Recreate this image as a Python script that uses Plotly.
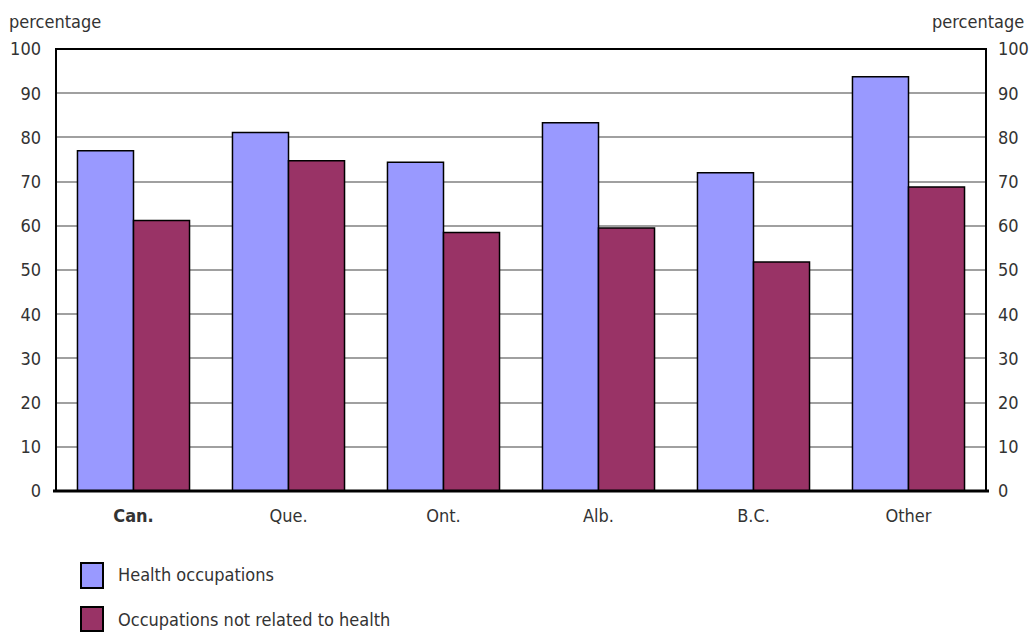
import plotly.graph_objects as go

categories = ["Can.", "Que.", "Ont.", "Alb.", "B.C.", "Other"]
tick_labels = ["<b>Can.</b>", "Que.", "Ont.", "Alb.", "B.C.", "Other"]
health = [77.0, 81.1, 74.4, 83.3, 72.0, 93.7]
not_health = [61.2, 74.7, 58.5, 59.5, 51.8, 68.8]
y_ticks = [0, 10, 20, 30, 40, 50, 60, 70, 80, 90, 100]
series_names = ["Health occupations", "Occupations not related to health"]
series_colors = ["#9999FF", "#993366"]

FONT = "DejaVu Sans Condensed, Liberation Sans Narrow, Arial Narrow, sans-serif"
TXT = "#333333"
FS = 18

# plot area in pixels (for placing legend shapes in paper coordinates)
L, R, T, B = 56, 986, 49, 491
W, H = 1032, 633
def px(x): return (x - L) / (R - L)
def py(y): return (B - y) / (B - T)

fig = go.Figure()
fig.add_trace(go.Bar(x=categories, y=health, name=series_names[0],
                     marker=dict(color=series_colors[0], line=dict(color="black", width=1.5)),
                     showlegend=False))
fig.add_trace(go.Bar(x=categories, y=not_health, name=series_names[1],
                     marker=dict(color=series_colors[1], line=dict(color="black", width=1.5)),
                     showlegend=False))
# invisible trace to activate right axis
fig.add_trace(go.Scatter(x=categories, y=health, yaxis="y2", mode="markers",
                         marker=dict(opacity=0), hoverinfo="skip", showlegend=False))

shapes = [
    dict(type="rect", xref="paper", yref="paper", x0=0, x1=1, y0=0, y1=1,
         line=dict(color="black", width=2), layer="above"),
    dict(type="line", xref="paper", yref="paper", x0=px(53), x1=px(989), y0=0, y1=0,
         line=dict(color="black", width=3), layer="above"),
]
annotations = [
    dict(text="percentage", xref="paper", yref="paper", x=px(7), y=py(22),
         xanchor="left", yanchor="middle", showarrow=False, font=dict(size=FS, color=TXT)),
    dict(text="percentage", xref="paper", yref="paper", x=px(1026), y=py(22),
         xanchor="right", yanchor="middle", showarrow=False, font=dict(size=FS, color=TXT)),
]
legend_rows = [(563, 588, 574), (607, 631, 619)]
for (y0, y1, yc), nm, col in zip(legend_rows, series_names, series_colors):
    shapes.append(dict(type="rect", xref="paper", yref="paper", x0=px(81), x1=px(103),
                       y0=py(y1), y1=py(y0), fillcolor=col, line=dict(color="black", width=2)))
    annotations.append(dict(text=nm, xref="paper", yref="paper", x=px(116), y=py(yc),
                            xanchor="left", yanchor="middle", showarrow=False,
                            font=dict(size=FS, color=TXT)))

fig.update_layout(
    width=W, height=H,
    margin=dict(l=L, r=W - R, t=T, b=H - B, autoexpand=False),
    paper_bgcolor="white", plot_bgcolor="white",
    font=dict(family=FONT, size=FS, color=TXT),
    barmode="group", bargap=0.277, bargroupgap=0,
    showlegend=False,
    xaxis=dict(tickvals=categories, ticktext=tick_labels, showgrid=False,
               showline=False, ticks="", ticklabelstandoff=12,
               tickfont=dict(size=FS, color=TXT)),
    yaxis=dict(range=[0, 100], tickvals=y_ticks, showgrid=True, gridcolor="#A0A0A0",
               gridwidth=1.5, zeroline=False, showline=False, ticks="",
               ticklabelstandoff=14, tickfont=dict(size=FS, color=TXT)),
    yaxis2=dict(range=[0, 100], tickvals=y_ticks, overlaying="y", side="right",
                showgrid=False, zeroline=False, showline=False, ticks="",
                ticklabelstandoff=11, tickfont=dict(size=FS, color=TXT)),
    shapes=shapes,
    annotations=annotations,
)

fig.write_html("out.html")
